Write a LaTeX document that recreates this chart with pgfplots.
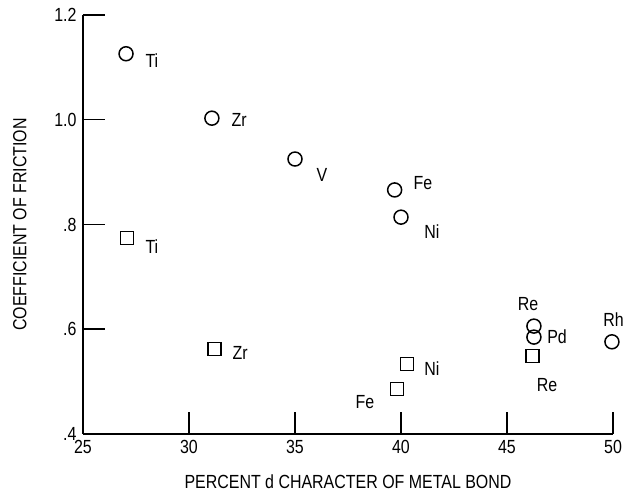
\documentclass[border=0pt]{standalone}
\usepackage{fontspec}
\setmainfont{Liberation Sans}[FakeStretch=0.84]
\usepackage{pgfplots}
\pgfplotsset{compat=1.18}
\begin{document}
\begin{tikzpicture}
\begin{axis}[
  scale only axis, width=530pt, height=419pt,
  xmin=25, xmax=50, ymin=0.4, ymax=1.2,
  axis lines*=left,
  axis line style={line width=1.7pt},
  xtick={25,30,35,40,45,50},
  xticklabels={25,30,35,40,45,50},
  ytick={0.4,0.6,0.8,1.0,1.2},
  yticklabels={.4,.6,.8,1.0,1.2},
  tick align=inside,
  major tick length=22pt,
  tick style={line width=1.5pt, black},
  font=\fontsize{19}{22}\selectfont,
  yticklabel style={anchor=east, xshift=-3pt},
  xticklabel style={anchor=north, yshift=-3pt},
  xlabel={PERCENT d CHARACTER OF METAL BOND},
  ylabel={COEFFICIENT OF FRICTION},
  xlabel style={at={(axis description cs:0.5,-0.1146)}, anchor=center},
  ylabel style={at={(axis description cs:-0.119,0.5)}, anchor=center},
  clip=false,
]
\addplot[only marks, mark=o, mark size=7pt, line width=1.5pt, black] coordinates {
  (27.03,1.126) (31.08,1.003) (35.0,0.925) (39.7,0.866) (40.0,0.814)
  (46.27,0.606) (46.27,0.585) (49.95,0.576)
};
\addplot[only marks, mark=square, mark size=6.5pt, line width=1.5pt, black] coordinates {
  (27.07,0.774) (31.2,0.562) (40.28,0.534) (39.8,0.486) (46.2,0.549)
};
\node at (axis cs:28.25,1.112) {Ti};
\node at (axis cs:32.36,1.0) {Zr};
\node at (axis cs:36.27,0.895) {V};
\node at (axis cs:41.04,0.879) {Fe};
\node at (axis cs:41.46,0.786) {Ni};
\node at (axis cs:28.25,0.757) {Ti};
\node at (axis cs:32.41,0.555) {Zr};
\node at (axis cs:41.46,0.524) {Ni};
\node at (axis cs:38.30,0.461) {Fe};
\node at (axis cs:45.99,0.648) {Re};
\node at (axis cs:47.36,0.585) {Pd};
\node at (axis cs:46.89,0.494) {Re};
\node[anchor=east, inner xsep=0pt] at (axis cs:50.52,0.618) {Rh};
\end{axis}
\pgfresetboundingbox
\path[use as bounding box] ([xshift=-83pt,yshift=-60pt]current axis.south west) rectangle ([xshift=11pt,yshift=15pt]current axis.north east);
\end{tikzpicture}
\end{document}
